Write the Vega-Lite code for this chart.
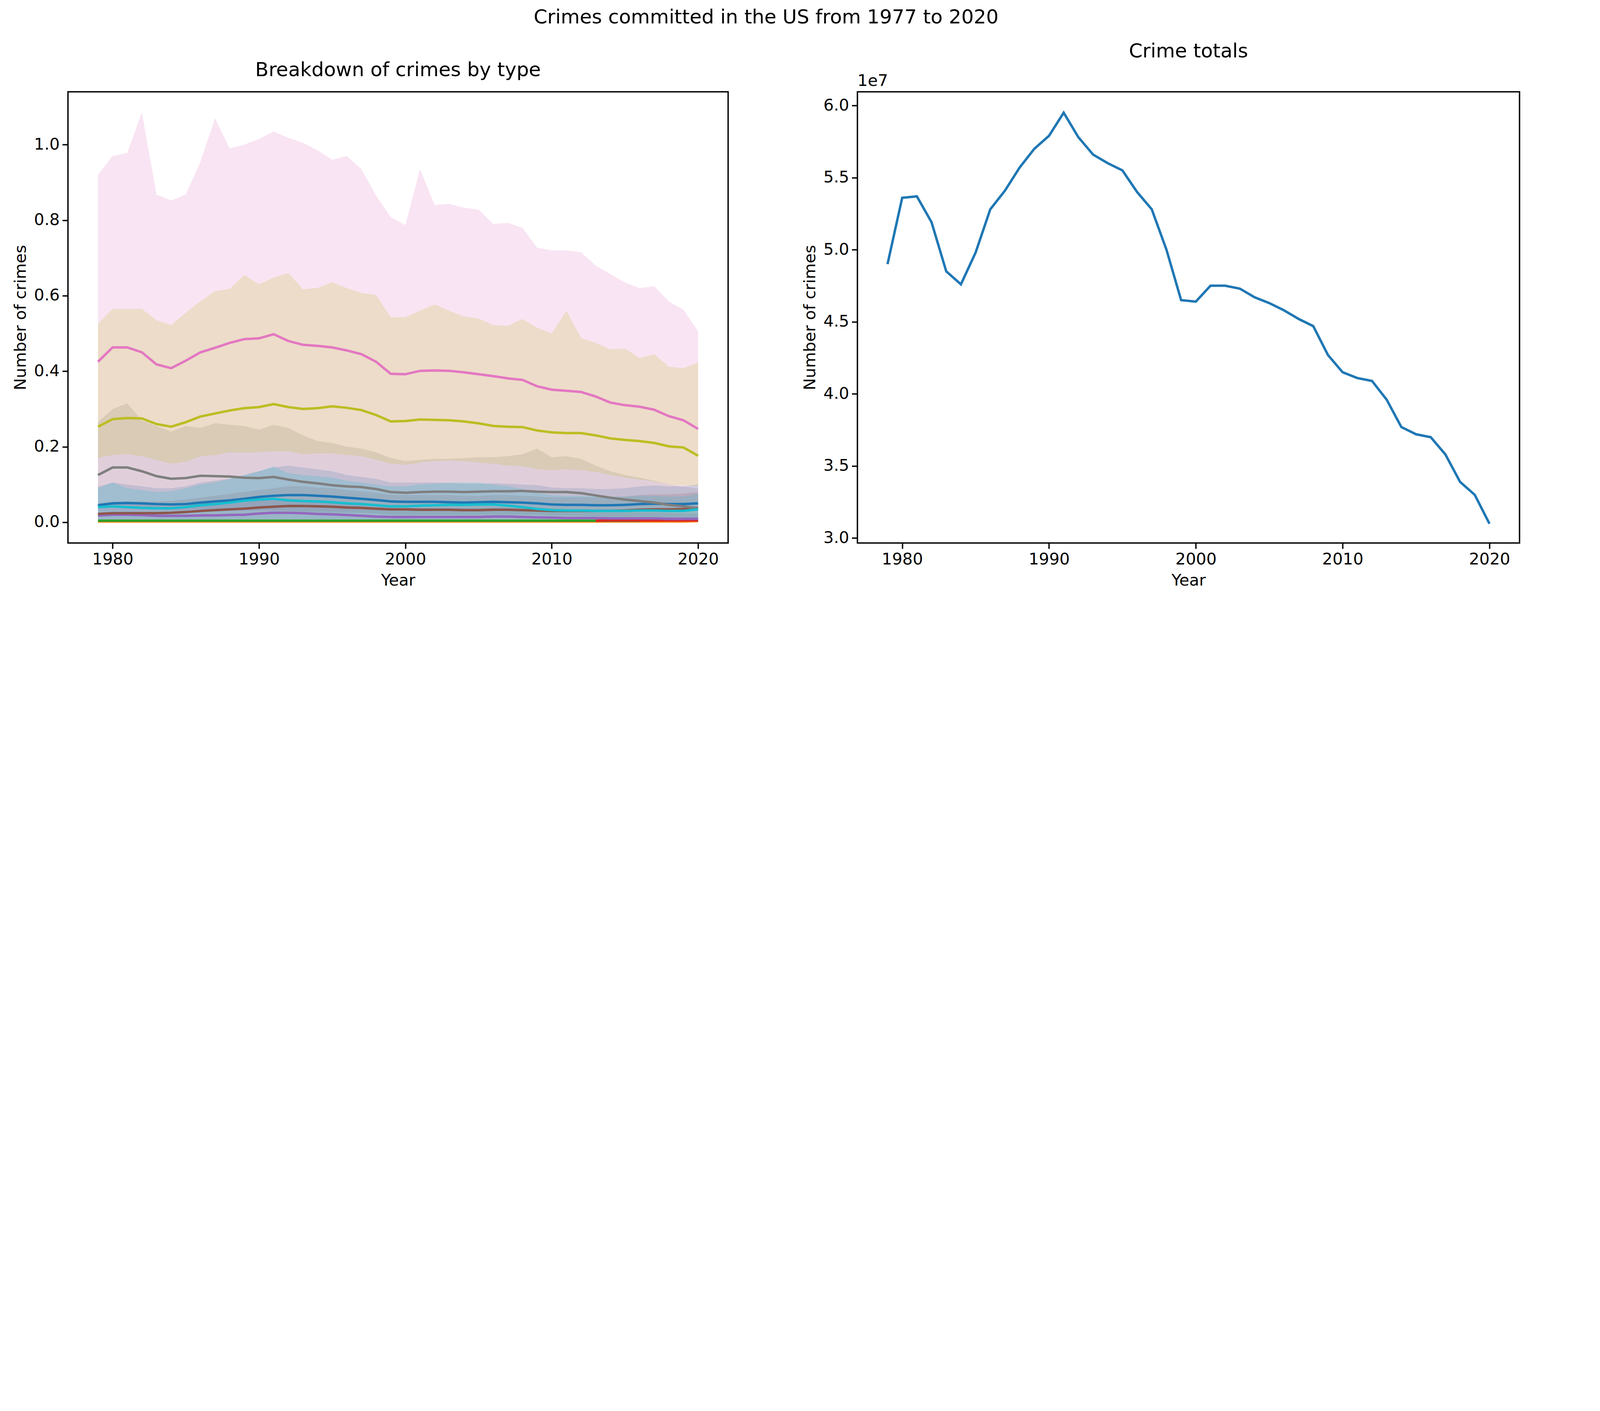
{
  "$schema": "https://vega.github.io/schema/vega-lite/v6.json",
  "background": "white",
  "padding": {"left": 30, "top": 20, "right": 20, "bottom": 20},
  "title": {"text": "Crimes committed in the US from 1977 to 2020", "fontSize": 50, "fontWeight": "normal", "font": "DejaVu Sans", "color": "black", "anchor": "middle", "offset": 35},
  "config": {
    "font": "DejaVu Sans",
    "view": {"stroke": "black", "strokeWidth": 3.5},
    "axis": {"grid": false, "domain": false, "tickColor": "black", "tickSize": 14.5, "tickWidth": 3.5, "labelFontSize": 41.5, "titleFontSize": 41.5, "titleFontWeight": "normal", "labelColor": "black", "titleColor": "black", "labelPadding": 7, "titlePadding": 12, "labelLimit": 0},
    "title": {"fontSize": 50, "fontWeight": "normal", "color": "black", "offset": 30},
    "concat": {"spacing": 185}
  },
  "data": {"values": [
    {"year":1979,"vc":45,"vc_lo":8,"vc_hi":95,"hom":2,"rl":4,"rr":null,"rob":18,"rob_lo":1,"rob_hi":45,"aa":22,"aa_lo":3,"aa_hi":50,"pc":425,"pc_lo":30,"pc_hi":920,"bur":125,"bur_lo":40,"bur_hi":265,"lar":253,"lar_lo":170,"lar_hi":525,"mvt":40,"mvt_lo":2,"mvt_hi":90,"total":49000000},
    {"year":1980,"vc":50,"vc_lo":8,"vc_hi":105,"hom":2,"rl":4,"rr":null,"rob":20,"rob_lo":1,"rob_hi":50,"aa":24,"aa_lo":3,"aa_hi":55,"pc":463,"pc_lo":30,"pc_hi":970,"bur":145,"bur_lo":45,"bur_hi":300,"lar":273,"lar_lo":178,"lar_hi":565,"mvt":42,"mvt_lo":2,"mvt_hi":105,"total":53600000},
    {"year":1981,"vc":51,"vc_lo":8,"vc_hi":100,"hom":2,"rl":4,"rr":null,"rob":20,"rob_lo":1,"rob_hi":50,"aa":24,"aa_lo":3,"aa_hi":55,"pc":463,"pc_lo":30,"pc_hi":978,"bur":145,"bur_lo":45,"bur_hi":315,"lar":276,"lar_lo":180,"lar_hi":565,"mvt":40,"mvt_lo":2,"mvt_hi":90,"total":53700000},
    {"year":1982,"vc":50,"vc_lo":8,"vc_hi":95,"hom":2,"rl":4,"rr":null,"rob":19,"rob_lo":1,"rob_hi":48,"aa":24,"aa_lo":3,"aa_hi":55,"pc":450,"pc_lo":30,"pc_hi":1085,"bur":135,"bur_lo":40,"bur_hi":270,"lar":275,"lar_lo":175,"lar_hi":565,"mvt":38,"mvt_lo":2,"mvt_hi":85,"total":51900000},
    {"year":1983,"vc":48,"vc_lo":8,"vc_hi":90,"hom":2,"rl":4,"rr":null,"rob":17,"rob_lo":1,"rob_hi":43,"aa":24,"aa_lo":3,"aa_hi":55,"pc":418,"pc_lo":30,"pc_hi":868,"bur":122,"bur_lo":35,"bur_hi":255,"lar":260,"lar_lo":165,"lar_hi":535,"mvt":37,"mvt_lo":2,"mvt_hi":80,"total":48500000},
    {"year":1984,"vc":47,"vc_lo":8,"vc_hi":90,"hom":2,"rl":4,"rr":null,"rob":17,"rob_lo":1,"rob_hi":42,"aa":25,"aa_lo":3,"aa_hi":57,"pc":408,"pc_lo":30,"pc_hi":852,"bur":115,"bur_lo":32,"bur_hi":240,"lar":253,"lar_lo":155,"lar_hi":522,"mvt":37,"mvt_lo":2,"mvt_hi":82,"total":47600000},
    {"year":1985,"vc":48,"vc_lo":8,"vc_hi":95,"hom":2,"rl":4,"rr":null,"rob":17,"rob_lo":1,"rob_hi":43,"aa":27,"aa_lo":3,"aa_hi":60,"pc":428,"pc_lo":30,"pc_hi":868,"bur":117,"bur_lo":33,"bur_hi":255,"lar":265,"lar_lo":160,"lar_hi":555,"mvt":40,"mvt_lo":2,"mvt_hi":90,"total":49800000},
    {"year":1986,"vc":52,"vc_lo":8,"vc_hi":105,"hom":2,"rl":4,"rr":null,"rob":18,"rob_lo":1,"rob_hi":45,"aa":30,"aa_lo":3,"aa_hi":65,"pc":450,"pc_lo":30,"pc_hi":955,"bur":123,"bur_lo":35,"bur_hi":250,"lar":280,"lar_lo":175,"lar_hi":585,"mvt":45,"mvt_lo":2,"mvt_hi":100,"total":52800000},
    {"year":1987,"vc":55,"vc_lo":8,"vc_hi":110,"hom":2,"rl":4,"rr":null,"rob":18,"rob_lo":1,"rob_hi":46,"aa":32,"aa_lo":3,"aa_hi":70,"pc":462,"pc_lo":30,"pc_hi":1070,"bur":122,"bur_lo":35,"bur_hi":262,"lar":288,"lar_lo":178,"lar_hi":612,"mvt":48,"mvt_lo":2,"mvt_hi":105,"total":54100000},
    {"year":1988,"vc":58,"vc_lo":8,"vc_hi":115,"hom":2,"rl":4,"rr":null,"rob":19,"rob_lo":1,"rob_hi":48,"aa":34,"aa_lo":3,"aa_hi":75,"pc":475,"pc_lo":30,"pc_hi":990,"bur":121,"bur_lo":33,"bur_hi":258,"lar":296,"lar_lo":185,"lar_hi":618,"mvt":52,"mvt_lo":2,"mvt_hi":115,"total":55700000},
    {"year":1989,"vc":62,"vc_lo":8,"vc_hi":125,"hom":2,"rl":4,"rr":null,"rob":20,"rob_lo":1,"rob_hi":52,"aa":36,"aa_lo":3,"aa_hi":80,"pc":485,"pc_lo":30,"pc_hi":1000,"bur":118,"bur_lo":32,"bur_hi":255,"lar":302,"lar_lo":185,"lar_hi":655,"mvt":57,"mvt_lo":2,"mvt_hi":125,"total":57000000},
    {"year":1990,"vc":67,"vc_lo":8,"vc_hi":135,"hom":2,"rl":4,"rr":null,"rob":23,"rob_lo":1,"rob_hi":58,"aa":39,"aa_lo":3,"aa_hi":85,"pc":487,"pc_lo":30,"pc_hi":1015,"bur":117,"bur_lo":32,"bur_hi":245,"lar":305,"lar_lo":185,"lar_hi":630,"mvt":60,"mvt_lo":2,"mvt_hi":135,"total":57900000},
    {"year":1991,"vc":70,"vc_lo":8,"vc_hi":145,"hom":2,"rl":4,"rr":null,"rob":25,"rob_lo":1,"rob_hi":62,"aa":41,"aa_lo":3,"aa_hi":90,"pc":498,"pc_lo":30,"pc_hi":1035,"bur":120,"bur_lo":32,"bur_hi":258,"lar":313,"lar_lo":188,"lar_hi":648,"mvt":62,"mvt_lo":2,"mvt_hi":148,"total":59500000},
    {"year":1992,"vc":72,"vc_lo":8,"vc_hi":150,"hom":2,"rl":4,"rr":null,"rob":25,"rob_lo":1,"rob_hi":62,"aa":43,"aa_lo":3,"aa_hi":95,"pc":480,"pc_lo":30,"pc_hi":1018,"bur":113,"bur_lo":30,"bur_hi":250,"lar":305,"lar_lo":188,"lar_hi":660,"mvt":58,"mvt_lo":2,"mvt_hi":130,"total":57800000},
    {"year":1993,"vc":72,"vc_lo":8,"vc_hi":145,"hom":2,"rl":4,"rr":null,"rob":24,"rob_lo":1,"rob_hi":60,"aa":43,"aa_lo":3,"aa_hi":95,"pc":470,"pc_lo":30,"pc_hi":1005,"bur":107,"bur_lo":28,"bur_hi":230,"lar":300,"lar_lo":180,"lar_hi":617,"mvt":56,"mvt_lo":2,"mvt_hi":125,"total":56600000},
    {"year":1994,"vc":70,"vc_lo":8,"vc_hi":140,"hom":2,"rl":4,"rr":null,"rob":22,"rob_lo":1,"rob_hi":56,"aa":42,"aa_lo":3,"aa_hi":92,"pc":467,"pc_lo":30,"pc_hi":985,"bur":103,"bur_lo":27,"bur_hi":215,"lar":302,"lar_lo":182,"lar_hi":620,"mvt":55,"mvt_lo":2,"mvt_hi":122,"total":56000000},
    {"year":1995,"vc":68,"vc_lo":8,"vc_hi":135,"hom":2,"rl":4,"rr":null,"rob":21,"rob_lo":1,"rob_hi":53,"aa":41,"aa_lo":3,"aa_hi":90,"pc":463,"pc_lo":30,"pc_hi":960,"bur":98,"bur_lo":26,"bur_hi":210,"lar":307,"lar_lo":182,"lar_hi":636,"mvt":53,"mvt_lo":2,"mvt_hi":118,"total":55500000},
    {"year":1996,"vc":65,"vc_lo":8,"vc_hi":125,"hom":2,"rl":4,"rr":null,"rob":19,"rob_lo":1,"rob_hi":48,"aa":39,"aa_lo":3,"aa_hi":85,"pc":455,"pc_lo":30,"pc_hi":970,"bur":95,"bur_lo":25,"bur_hi":200,"lar":303,"lar_lo":178,"lar_hi":620,"mvt":50,"mvt_lo":2,"mvt_hi":110,"total":54000000},
    {"year":1997,"vc":62,"vc_lo":8,"vc_hi":120,"hom":2,"rl":4,"rr":null,"rob":17,"rob_lo":1,"rob_hi":44,"aa":38,"aa_lo":3,"aa_hi":82,"pc":445,"pc_lo":30,"pc_hi":935,"bur":93,"bur_lo":25,"bur_hi":195,"lar":297,"lar_lo":175,"lar_hi":607,"mvt":48,"mvt_lo":2,"mvt_hi":105,"total":52800000},
    {"year":1998,"vc":59,"vc_lo":8,"vc_hi":115,"hom":2,"rl":4,"rr":null,"rob":15,"rob_lo":1,"rob_hi":40,"aa":36,"aa_lo":3,"aa_hi":78,"pc":425,"pc_lo":30,"pc_hi":865,"bur":88,"bur_lo":23,"bur_hi":185,"lar":284,"lar_lo":165,"lar_hi":602,"mvt":45,"mvt_lo":2,"mvt_hi":100,"total":50000000},
    {"year":1999,"vc":55,"vc_lo":8,"vc_hi":105,"hom":2,"rl":4,"rr":null,"rob":14,"rob_lo":1,"rob_hi":37,"aa":34,"aa_lo":3,"aa_hi":73,"pc":393,"pc_lo":30,"pc_hi":808,"bur":80,"bur_lo":20,"bur_hi":170,"lar":267,"lar_lo":155,"lar_hi":543,"mvt":42,"mvt_lo":2,"mvt_hi":95,"total":46500000},
    {"year":2000,"vc":54,"vc_lo":8,"vc_hi":105,"hom":2,"rl":4,"rr":null,"rob":14,"rob_lo":1,"rob_hi":37,"aa":34,"aa_lo":3,"aa_hi":72,"pc":392,"pc_lo":30,"pc_hi":787,"bur":78,"bur_lo":20,"bur_hi":162,"lar":268,"lar_lo":152,"lar_hi":543,"mvt":42,"mvt_lo":2,"mvt_hi":95,"total":46400000},
    {"year":2001,"vc":54,"vc_lo":8,"vc_hi":105,"hom":2,"rl":4,"rr":null,"rob":14,"rob_lo":1,"rob_hi":37,"aa":33,"aa_lo":3,"aa_hi":72,"pc":401,"pc_lo":30,"pc_hi":935,"bur":80,"bur_lo":20,"bur_hi":165,"lar":272,"lar_lo":158,"lar_hi":560,"mvt":44,"mvt_lo":2,"mvt_hi":100,"total":47500000},
    {"year":2002,"vc":54,"vc_lo":8,"vc_hi":105,"hom":2,"rl":4,"rr":null,"rob":14,"rob_lo":1,"rob_hi":37,"aa":33,"aa_lo":3,"aa_hi":72,"pc":402,"pc_lo":30,"pc_hi":840,"bur":81,"bur_lo":20,"bur_hi":168,"lar":271,"lar_lo":162,"lar_hi":577,"mvt":45,"mvt_lo":2,"mvt_hi":102,"total":47500000},
    {"year":2003,"vc":53,"vc_lo":8,"vc_hi":104,"hom":2,"rl":4,"rr":null,"rob":14,"rob_lo":1,"rob_hi":37,"aa":33,"aa_lo":3,"aa_hi":72,"pc":401,"pc_lo":30,"pc_hi":843,"bur":81,"bur_lo":20,"bur_hi":168,"lar":270,"lar_lo":163,"lar_hi":560,"mvt":46,"mvt_lo":2,"mvt_hi":105,"total":47300000},
    {"year":2004,"vc":52,"vc_lo":8,"vc_hi":102,"hom":2,"rl":4,"rr":null,"rob":14,"rob_lo":1,"rob_hi":37,"aa":32,"aa_lo":3,"aa_hi":70,"pc":397,"pc_lo":30,"pc_hi":833,"bur":80,"bur_lo":20,"bur_hi":170,"lar":267,"lar_lo":162,"lar_hi":545,"mvt":46,"mvt_lo":2,"mvt_hi":105,"total":46700000},
    {"year":2005,"vc":53,"vc_lo":8,"vc_hi":102,"hom":2,"rl":4,"rr":null,"rob":14,"rob_lo":1,"rob_hi":37,"aa":32,"aa_lo":3,"aa_hi":70,"pc":392,"pc_lo":30,"pc_hi":828,"bur":81,"bur_lo":20,"bur_hi":172,"lar":262,"lar_lo":158,"lar_hi":540,"mvt":47,"mvt_lo":2,"mvt_hi":105,"total":46300000},
    {"year":2006,"vc":54,"vc_lo":8,"vc_hi":103,"hom":2,"rl":4,"rr":null,"rob":15,"rob_lo":1,"rob_hi":38,"aa":33,"aa_lo":3,"aa_hi":72,"pc":387,"pc_lo":30,"pc_hi":790,"bur":82,"bur_lo":20,"bur_hi":172,"lar":255,"lar_lo":155,"lar_hi":522,"mvt":47,"mvt_lo":2,"mvt_hi":100,"total":45800000},
    {"year":2007,"vc":53,"vc_lo":8,"vc_hi":102,"hom":2,"rl":4,"rr":null,"rob":15,"rob_lo":1,"rob_hi":38,"aa":33,"aa_lo":3,"aa_hi":72,"pc":381,"pc_lo":30,"pc_hi":793,"bur":82,"bur_lo":20,"bur_hi":175,"lar":253,"lar_lo":150,"lar_hi":520,"mvt":44,"mvt_lo":2,"mvt_hi":95,"total":45200000},
    {"year":2008,"vc":52,"vc_lo":8,"vc_hi":100,"hom":2,"rl":4,"rr":null,"rob":14,"rob_lo":1,"rob_hi":37,"aa":32,"aa_lo":3,"aa_hi":70,"pc":377,"pc_lo":30,"pc_hi":780,"bur":83,"bur_lo":20,"bur_hi":180,"lar":252,"lar_lo":148,"lar_hi":538,"mvt":40,"mvt_lo":2,"mvt_hi":88,"total":44700000},
    {"year":2009,"vc":50,"vc_lo":8,"vc_hi":98,"hom":2,"rl":4,"rr":null,"rob":13,"rob_lo":1,"rob_hi":34,"aa":31,"aa_lo":3,"aa_hi":68,"pc":360,"pc_lo":30,"pc_hi":727,"bur":81,"bur_lo":20,"bur_hi":195,"lar":243,"lar_lo":140,"lar_hi":515,"mvt":35,"mvt_lo":2,"mvt_hi":78,"total":42700000},
    {"year":2010,"vc":47,"vc_lo":8,"vc_hi":92,"hom":2,"rl":4,"rr":null,"rob":12,"rob_lo":1,"rob_hi":31,"aa":30,"aa_lo":3,"aa_hi":66,"pc":351,"pc_lo":30,"pc_hi":720,"bur":80,"bur_lo":18,"bur_hi":172,"lar":238,"lar_lo":138,"lar_hi":500,"mvt":32,"mvt_lo":2,"mvt_hi":72,"total":41500000},
    {"year":2011,"vc":46,"vc_lo":8,"vc_hi":90,"hom":2,"rl":4,"rr":null,"rob":11,"rob_lo":1,"rob_hi":29,"aa":30,"aa_lo":3,"aa_hi":66,"pc":348,"pc_lo":30,"pc_hi":720,"bur":80,"bur_lo":18,"bur_hi":175,"lar":236,"lar_lo":140,"lar_hi":560,"mvt":31,"mvt_lo":2,"mvt_hi":70,"total":41100000},
    {"year":2012,"vc":46,"vc_lo":8,"vc_hi":90,"hom":2,"rl":4,"rr":null,"rob":11,"rob_lo":1,"rob_hi":29,"aa":30,"aa_lo":3,"aa_hi":66,"pc":345,"pc_lo":30,"pc_hi":715,"bur":77,"bur_lo":17,"bur_hi":168,"lar":236,"lar_lo":138,"lar_hi":488,"mvt":31,"mvt_lo":2,"mvt_hi":70,"total":40900000},
    {"year":2013,"vc":45,"vc_lo":8,"vc_hi":88,"hom":2,"rl":4,"rr":4,"rob":11,"rob_lo":1,"rob_hi":28,"aa":30,"aa_lo":3,"aa_hi":66,"pc":333,"pc_lo":30,"pc_hi":680,"bur":71,"bur_lo":16,"bur_hi":150,"lar":230,"lar_lo":133,"lar_hi":475,"mvt":30,"mvt_lo":2,"mvt_hi":68,"total":39600000},
    {"year":2014,"vc":45,"vc_lo":8,"vc_hi":88,"hom":2,"rl":4,"rr":5,"rob":10,"rob_lo":1,"rob_hi":26,"aa":30,"aa_lo":3,"aa_hi":66,"pc":317,"pc_lo":30,"pc_hi":657,"bur":65,"bur_lo":14,"bur_hi":135,"lar":222,"lar_lo":125,"lar_hi":458,"mvt":30,"mvt_lo":2,"mvt_hi":68,"total":37700000},
    {"year":2015,"vc":46,"vc_lo":8,"vc_hi":90,"hom":2,"rl":4,"rr":5,"rob":10,"rob_lo":1,"rob_hi":26,"aa":31,"aa_lo":3,"aa_hi":68,"pc":310,"pc_lo":30,"pc_hi":635,"bur":60,"bur_lo":13,"bur_hi":125,"lar":218,"lar_lo":118,"lar_hi":460,"mvt":30,"mvt_lo":2,"mvt_hi":68,"total":37200000},
    {"year":2016,"vc":48,"vc_lo":8,"vc_hi":95,"hom":2,"rl":4,"rr":5,"rob":10,"rob_lo":1,"rob_hi":26,"aa":33,"aa_lo":3,"aa_hi":72,"pc":306,"pc_lo":30,"pc_hi":620,"bur":56,"bur_lo":12,"bur_hi":118,"lar":215,"lar_lo":113,"lar_hi":435,"mvt":31,"mvt_lo":2,"mvt_hi":70,"total":37000000},
    {"year":2017,"vc":49,"vc_lo":8,"vc_hi":97,"hom":2,"rl":null,"rr":5,"rob":10,"rob_lo":1,"rob_hi":26,"aa":34,"aa_lo":3,"aa_hi":74,"pc":298,"pc_lo":30,"pc_hi":625,"bur":52,"bur_lo":11,"bur_hi":110,"lar":210,"lar_lo":108,"lar_hi":445,"mvt":31,"mvt_lo":2,"mvt_hi":70,"total":35800000},
    {"year":2018,"vc":48,"vc_lo":8,"vc_hi":95,"hom":2,"rl":null,"rr":5,"rob":9,"rob_lo":1,"rob_hi":24,"aa":34,"aa_lo":3,"aa_hi":74,"pc":281,"pc_lo":30,"pc_hi":585,"bur":46,"bur_lo":10,"bur_hi":100,"lar":201,"lar_lo":100,"lar_hi":412,"mvt":30,"mvt_lo":2,"mvt_hi":68,"total":33900000},
    {"year":2019,"vc":48,"vc_lo":8,"vc_hi":95,"hom":2,"rl":null,"rr":5,"rob":9,"rob_lo":1,"rob_hi":23,"aa":35,"aa_lo":3,"aa_hi":76,"pc":270,"pc_lo":30,"pc_hi":563,"bur":42,"bur_lo":9,"bur_hi":95,"lar":198,"lar_lo":97,"lar_hi":408,"mvt":30,"mvt_lo":2,"mvt_hi":68,"total":33000000},
    {"year":2020,"vc":50,"vc_lo":8,"vc_hi":100,"hom":3,"rl":null,"rr":5,"rob":9,"rob_lo":1,"rob_hi":23,"aa":38,"aa_lo":3,"aa_hi":80,"pc":247,"pc_lo":30,"pc_hi":505,"bur":37,"bur_lo":8,"bur_hi":90,"lar":176,"lar_lo":95,"lar_hi":423,"mvt":34,"mvt_lo":2,"mvt_hi":75,"total":31000000}
  ]},
  "hconcat": [
    {
      "width": 1690,
      "height": 1155,
      "title": "Breakdown of crimes by type",
      "encoding": {
        "x": {"field": "year", "type": "quantitative", "title": "Year", "scale": {"domain": [1976.95, 2022.05], "nice": false, "zero": false}, "axis": {"values": [1980, 1990, 2000, 2010, 2020], "format": "d"}}
      },
      "layer": [
        {"mark": {"type": "area", "opacity": 0.2}, "encoding": {"y": {"field": "vc_lo", "type": "quantitative"}, "y2": {"field": "vc_hi"}, "color": {"datum": "violent_crime", "legend": null}}},
        {"mark": {"type": "area", "opacity": 0.2}, "encoding": {"y": {"field": "rob_lo", "type": "quantitative"}, "y2": {"field": "rob_hi"}, "color": {"datum": "robbery", "legend": null}}},
        {"mark": {"type": "area", "opacity": 0.2}, "encoding": {"y": {"field": "aa_lo", "type": "quantitative"}, "y2": {"field": "aa_hi"}, "color": {"datum": "aggravated_assault", "legend": null}}},
        {"mark": {"type": "area", "opacity": 0.2}, "encoding": {"y": {"field": "pc_lo", "type": "quantitative"}, "y2": {"field": "pc_hi"}, "color": {"datum": "property_crime", "legend": null}}},
        {"mark": {"type": "area", "opacity": 0.2}, "encoding": {"y": {"field": "bur_lo", "type": "quantitative"}, "y2": {"field": "bur_hi"}, "color": {"datum": "burglary", "legend": null}}},
        {"mark": {"type": "area", "opacity": 0.2}, "encoding": {"y": {"field": "lar_lo", "type": "quantitative"}, "y2": {"field": "lar_hi"}, "color": {"datum": "larceny", "legend": null}}},
        {"mark": {"type": "area", "opacity": 0.2}, "encoding": {"y": {"field": "mvt_lo", "type": "quantitative"}, "y2": {"field": "mvt_hi"}, "color": {"datum": "motor_vehicle_theft", "legend": null}}},
        {"mark": {"type": "line", "strokeWidth": 6.25}, "encoding": {"y": {"field": "vc", "type": "quantitative", "title": "Number of crimes", "scale": {"domain": [-55, 1140], "nice": false}, "axis": {"values": [0, 200, 400, 600, 800, 1000], "labelExpr": "format(datum.value / 1000, '.1f')"}}, "color": {"datum": "violent_crime"}}},
        {"mark": {"type": "line", "strokeWidth": 6.25}, "encoding": {"y": {"field": "hom", "type": "quantitative"}, "color": {"datum": "homicide"}}},
        {"mark": {"type": "line", "strokeWidth": 6.25}, "encoding": {"y": {"field": "rl", "type": "quantitative"}, "color": {"datum": "rape_legacy"}}},
        {"mark": {"type": "line", "strokeWidth": 6.25}, "encoding": {"y": {"field": "rr", "type": "quantitative"}, "color": {"datum": "rape_revised"}}},
        {"mark": {"type": "line", "strokeWidth": 6.25}, "encoding": {"y": {"field": "rob", "type": "quantitative"}, "color": {"datum": "robbery"}}},
        {"mark": {"type": "line", "strokeWidth": 6.25}, "encoding": {"y": {"field": "aa", "type": "quantitative"}, "color": {"datum": "aggravated_assault"}}},
        {"mark": {"type": "line", "strokeWidth": 6.25}, "encoding": {"y": {"field": "pc", "type": "quantitative"}, "color": {"datum": "property_crime"}}},
        {"mark": {"type": "line", "strokeWidth": 6.25}, "encoding": {"y": {"field": "bur", "type": "quantitative"}, "color": {"datum": "burglary"}}},
        {"mark": {"type": "line", "strokeWidth": 6.25}, "encoding": {"y": {"field": "lar", "type": "quantitative"}, "color": {"datum": "larceny"}}},
        {"mark": {"type": "line", "strokeWidth": 6.25}, "encoding": {"y": {"field": "mvt", "type": "quantitative"}, "color": {"datum": "motor_vehicle_theft",
          "scale": {
            "domain": ["violent_crime", "robbery", "burglary", "homicide", "aggravated_assault", "larceny", "rape_legacy", "property_crime", "motor_vehicle_theft", "rape_revised"],
            "range": ["#1f77b4", "#9467bd", "#7f7f7f", "#ff7f0e", "#8c564b", "#bcbd22", "#2ca02c", "#e377c2", "#17becf", "#d62728"]
          },
          "legend": {"title": null, "orient": "none", "legendX": 30, "legendY": 1335, "columns": 3, "symbolType": "stroke", "symbolStrokeWidth": 6.25, "symbolSize": 6800, "labelFontSize": 41.5, "labelColor": "black", "rowPadding": 20, "columnPadding": 75, "labelOffset": 20}}}},
        {"data": {"values": [{"t": "1e6"}]}, "mark": {"type": "text", "fontSize": 41.5, "align": "left", "baseline": "bottom", "dy": -6, "color": "black"}, "encoding": {"x": {"datum": 1976.95}, "y": {"datum": 1140}, "text": {"field": "t"}}}
      ]
    },
    {
      "width": 1695,
      "height": 1155,
      "title": "Crime totals",
      "layer": [
        {"mark": {"type": "line", "strokeWidth": 6.25, "color": "#1f77b4"},
         "encoding": {
           "x": {"field": "year", "type": "quantitative", "title": "Year", "scale": {"domain": [1976.95, 2022.05], "nice": false, "zero": false}, "axis": {"values": [1980, 1990, 2000, 2010, 2020], "format": "d"}},
           "y": {"field": "total", "type": "quantitative", "title": "Number of crimes", "scale": {"domain": [29660000, 60950000], "nice": false, "zero": false}, "axis": {"values": [30000000, 35000000, 40000000, 45000000, 50000000, 55000000, 60000000], "labelExpr": "format(datum.value / 10000000, '.1f')"}}
         }},
        {"data": {"values": [{"t": "1e7"}]}, "mark": {"type": "text", "fontSize": 41.5, "align": "left", "baseline": "bottom", "dy": -6, "color": "black"}, "encoding": {"x": {"datum": 1976.95}, "y": {"datum": 60950000}, "text": {"field": "t"}}}
      ]
    }
  ]
}
